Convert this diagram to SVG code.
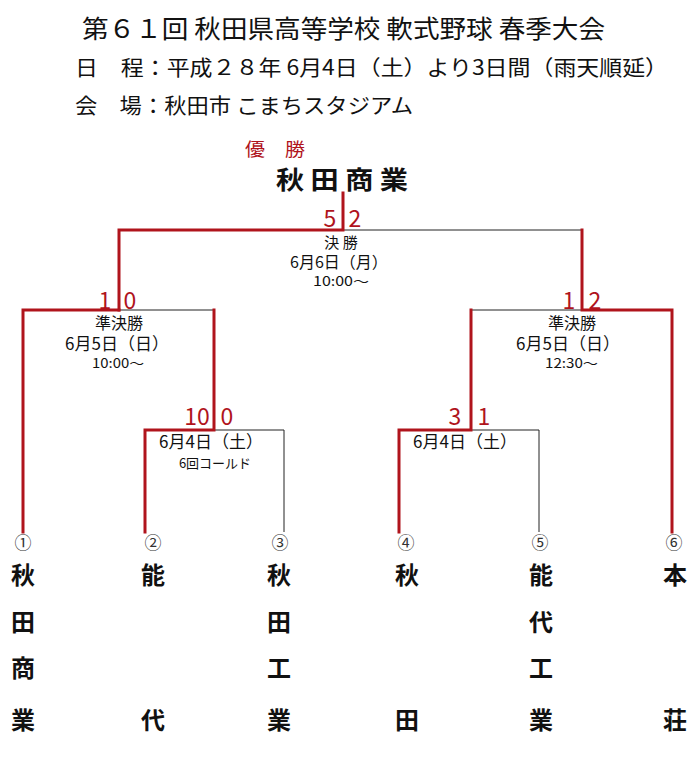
<svg xmlns="http://www.w3.org/2000/svg" width="700" height="760" viewBox="0 0 700 760">
<style>
text{font-family:"Noto Sans CJK JP","Noto Sans CJK SC",sans-serif;dominant-baseline:central;fill:#111}
.r{fill:#b0141c}
.c{text-anchor:middle}
.sc{font-size:23px;fill:#b0141c;text-anchor:middle}
.win{stroke:#b0141c;stroke-width:3;fill:none;stroke-linecap:square}
.los{stroke:#222;stroke-width:1;fill:none}
.team{font-size:24px;font-weight:bold;text-anchor:middle}
.num{font-size:17px;text-anchor:middle;fill:#333}
.lb{font-size:16px;text-anchor:middle}
.tm{font-size:13px;text-anchor:middle}
</style>
<g id="header">
<text x="82" y="27" font-size="25" textLength="523" lengthAdjust="spacingAndGlyphs">第６１回 秋田県高等学校 軟式野球 春季大会</text>
<text x="75" y="66" font-size="21" textLength="593" lengthAdjust="spacingAndGlyphs">日　程：平成２８年 6月4日（土）より3日間（雨天順延）</text>
<text x="75" y="104" font-size="21" textLength="338" lengthAdjust="spacingAndGlyphs">会　場：秋田市 こまちスタジアム</text>
</g>
<g id="champion">
<text class="r" x="245" y="148" font-size="18" textLength="60" lengthAdjust="spacingAndGlyphs">優　勝</text>
<text x="276" y="178" font-size="25" font-weight="bold" textLength="132" lengthAdjust="spacingAndGlyphs">秋 田 商 業</text>
</g>
<g id="connectors">
<path class="los" d="M343 230H582"/>
<path class="los" d="M119 310H214"/>
<path class="los" d="M471 310H582"/>
<path class="los" d="M214 430H284V532"/>
<path class="los" d="M471 430H539V532"/>
<path class="win" d="M343 193V230H119V310"/>
<path class="win" d="M582 230V310H672V532"/>
<path class="win" d="M119 310H23V532"/>
<path class="win" d="M214 310V430H145V532"/>
<path class="win" d="M471 310V430H399V532"/>
</g>
<g id="final">
<text class="sc" x="330" y="217">5</text>
<text class="sc" x="355" y="217">2</text>
<text class="c" x="341" y="241" font-size="15">決 勝</text>
<text class="lb" x="339" y="261">6月6日（月）</text>
<text class="tm" x="313" y="280" style="text-anchor:start" textLength="56" lengthAdjust="spacingAndGlyphs">10:00～</text>
</g>
<g id="semi-left">
<text class="sc" x="105" y="299">1</text>
<text class="sc" x="130" y="299">0</text>
<text class="lb" x="119" y="322">準決勝</text>
<text class="c" x="117" y="342" font-size="17">6月5日（日）</text>
<text class="tm" x="92" y="362" style="text-anchor:start" textLength="52" lengthAdjust="spacingAndGlyphs">10:00～</text>
</g>
<g id="semi-right">
<text class="sc" x="569" y="299">1</text>
<text class="sc" x="595" y="299">2</text>
<text class="lb" x="572" y="322">準決勝</text>
<text class="c" x="568" y="342" font-size="17">6月5日（日）</text>
<text class="tm" x="545" y="362" style="text-anchor:start" textLength="53" lengthAdjust="spacingAndGlyphs">12:30～</text>
</g>
<g id="first-left">
<text class="sc" x="197" y="415">10</text>
<text class="sc" x="227" y="415">0</text>
<text class="c" x="211" y="440" font-size="17">6月4日（土）</text>
<text class="c" x="215" y="462" font-size="13">6回コールド</text>
</g>
<g id="first-right">
<text class="sc" x="455" y="415">3</text>
<text class="sc" x="484" y="415">1</text>
<text class="c" x="465" y="440" font-size="17">6月4日（土）</text>
</g>
<g id="team1"><text class="num" x="23" y="541">①</text><text class="team" x="23" y="573">秋</text><text class="team" x="23" y="620">田</text><text class="team" x="23" y="666">商</text><text class="team" x="23" y="718">業</text></g>
<g id="team2"><text class="num" x="153" y="541">②</text><text class="team" x="153" y="573">能</text><text class="team" x="153" y="718">代</text></g>
<g id="team3"><text class="num" x="280" y="541">③</text><text class="team" x="279" y="573">秋</text><text class="team" x="279" y="620">田</text><text class="team" x="279" y="666">工</text><text class="team" x="279" y="718">業</text></g>
<g id="team4"><text class="num" x="406" y="541">④</text><text class="team" x="407" y="573">秋</text><text class="team" x="407" y="718">田</text></g>
<g id="team5"><text class="num" x="540" y="541">⑤</text><text class="team" x="541" y="573">能</text><text class="team" x="541" y="620">代</text><text class="team" x="541" y="666">工</text><text class="team" x="541" y="718">業</text></g>
<g id="team6"><text class="num" x="674" y="541">⑥</text><text class="team" x="675" y="573">本</text><text class="team" x="675" y="718">荘</text></g>
</svg>
